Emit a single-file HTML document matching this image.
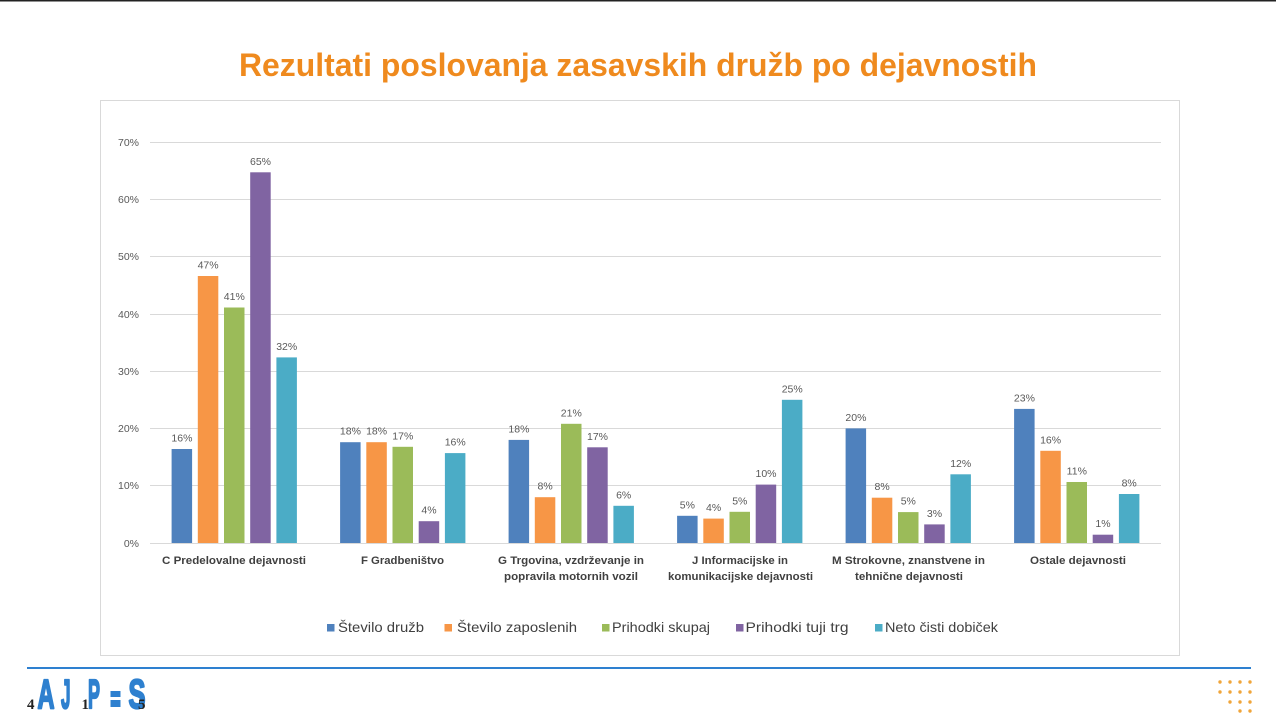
<!DOCTYPE html>
<html><head><meta charset="utf-8"><style>
html,body{margin:0;padding:0;background:#fff;}
svg{display:block;}
text{font-family:"Liberation Sans",sans-serif;}
</style></head><body>
<svg width="1276" height="721" viewBox="0 0 1276 721" xmlns="http://www.w3.org/2000/svg">
<rect x="0" y="0" width="1276" height="721" fill="#fff"/>
<rect x="0" y="0" width="1276" height="1.5" fill="#222"/>
<!-- title -->
<text x="239" y="76" font-size="32" font-weight="bold" fill="#EF8A1E" textLength="798" lengthAdjust="spacingAndGlyphs">Rezultati poslovanja zasavskih družb po dejavnostih</text>
<!-- chart box -->
<rect x="100.5" y="100.5" width="1079" height="555" fill="#fff" stroke="#D9D9D9" stroke-width="1"/>
<!-- gridlines -->
<g stroke="#D9D9D9" stroke-width="1">
<line x1="150" y1="142.5" x2="1161" y2="142.5"/>
<line x1="150" y1="199.5" x2="1161" y2="199.5"/>
<line x1="150" y1="256.5" x2="1161" y2="256.5"/>
<line x1="150" y1="314.5" x2="1161" y2="314.5"/>
<line x1="150" y1="371.5" x2="1161" y2="371.5"/>
<line x1="150" y1="428.5" x2="1161" y2="428.5"/>
<line x1="150" y1="485.5" x2="1161" y2="485.5"/>
<line x1="150" y1="543.5" x2="1161" y2="543.5"/>
</g>
<!-- y tick labels -->
<g font-size="10.5" fill="#595959" text-anchor="end">
<text x="139" y="146">70%</text>
<text x="139" y="203">60%</text>
<text x="139" y="260">50%</text>
<text x="139" y="318">40%</text>
<text x="139" y="375">30%</text>
<text x="139" y="432">20%</text>
<text x="139" y="489">10%</text>
<text x="139" y="547">0%</text>
</g>
<!-- bars -->
<g>
<rect x="171.6" y="449.0" width="20.5" height="94" fill="#4F81BD"/>
<rect x="197.8" y="276.0" width="20.5" height="267" fill="#F79646"/>
<rect x="224.0" y="307.5" width="20.5" height="235.5" fill="#9BBB59"/>
<rect x="250.2" y="172.3" width="20.5" height="370.7" fill="#8064A2"/>
<rect x="276.4" y="357.4" width="20.5" height="185.6" fill="#4BACC6"/>

<rect x="340.1" y="442.2" width="20.5" height="100.8" fill="#4F81BD"/>
<rect x="366.3" y="442.2" width="20.5" height="100.8" fill="#F79646"/>
<rect x="392.5" y="446.8" width="20.5" height="96.2" fill="#9BBB59"/>
<rect x="418.7" y="521.2" width="20.5" height="21.8" fill="#8064A2"/>
<rect x="444.9" y="453.1" width="20.5" height="89.9" fill="#4BACC6"/>

<rect x="508.6" y="439.9" width="20.5" height="103.1" fill="#4F81BD"/>
<rect x="534.8" y="497.2" width="20.5" height="45.8" fill="#F79646"/>
<rect x="561.0" y="423.8" width="20.5" height="119.2" fill="#9BBB59"/>
<rect x="587.2" y="447.3" width="20.5" height="95.7" fill="#8064A2"/>
<rect x="613.4" y="505.8" width="20.5" height="37.2" fill="#4BACC6"/>

<rect x="677.1" y="515.8" width="20.5" height="27.2" fill="#4F81BD"/>
<rect x="703.3" y="518.6" width="20.5" height="24.4" fill="#F79646"/>
<rect x="729.5" y="511.8" width="20.5" height="31.2" fill="#9BBB59"/>
<rect x="755.7" y="484.6" width="20.5" height="58.4" fill="#8064A2"/>
<rect x="781.9" y="399.8" width="20.5" height="143.2" fill="#4BACC6"/>

<rect x="845.6" y="428.4" width="20.5" height="114.6" fill="#4F81BD"/>
<rect x="871.8" y="497.7" width="20.5" height="45.3" fill="#F79646"/>
<rect x="898.0" y="512.1" width="20.5" height="30.9" fill="#9BBB59"/>
<rect x="924.2" y="524.4" width="20.5" height="18.6" fill="#8064A2"/>
<rect x="950.4" y="474.3" width="20.5" height="68.7" fill="#4BACC6"/>

<rect x="1014.1" y="408.9" width="20.5" height="134.1" fill="#4F81BD"/>
<rect x="1040.3" y="450.8" width="20.5" height="92.2" fill="#F79646"/>
<rect x="1066.5" y="482.0" width="20.5" height="61" fill="#9BBB59"/>
<rect x="1092.7" y="534.7" width="20.5" height="8.3" fill="#8064A2"/>
<rect x="1118.9" y="494.0" width="20.5" height="49" fill="#4BACC6"/>
</g>
<!-- data labels -->
<g font-size="10.5" fill="#595959" text-anchor="middle">
<text x="181.9" y="441.5">16%</text>
<text x="208.1" y="268.5">47%</text>
<text x="234.3" y="300">41%</text>
<text x="260.5" y="164.8">65%</text>
<text x="286.7" y="349.9">32%</text>

<text x="350.4" y="434.7">18%</text>
<text x="376.6" y="434.7">18%</text>
<text x="402.8" y="439.3">17%</text>
<text x="429.0" y="513.7">4%</text>
<text x="455.2" y="445.6">16%</text>

<text x="518.9" y="432.4">18%</text>
<text x="545.1" y="489.7">8%</text>
<text x="571.3" y="416.3">21%</text>
<text x="597.5" y="439.8">17%</text>
<text x="623.7" y="498.3">6%</text>

<text x="687.4" y="508.3">5%</text>
<text x="713.6" y="511.1">4%</text>
<text x="739.8" y="504.3">5%</text>
<text x="766.0" y="477.1">10%</text>
<text x="792.2" y="392.3">25%</text>

<text x="855.9" y="420.9">20%</text>
<text x="882.1" y="490.2">8%</text>
<text x="908.3" y="504.6">5%</text>
<text x="934.5" y="516.9">3%</text>
<text x="960.7" y="466.8">12%</text>

<text x="1024.4" y="401.4">23%</text>
<text x="1050.6" y="443.3">16%</text>
<text x="1076.8" y="474.5">11%</text>
<text x="1103.0" y="527.2">1%</text>
<text x="1129.2" y="486.5">8%</text>
</g>
<!-- category labels -->
<g font-size="11" font-weight="bold" fill="#404040">
<text x="162" y="564" textLength="144" lengthAdjust="spacingAndGlyphs">C Predelovalne dejavnosti</text>
<text x="361" y="564" textLength="83" lengthAdjust="spacingAndGlyphs">F Gradbeništvo</text>
<text x="498" y="564" textLength="146" lengthAdjust="spacingAndGlyphs">G Trgovina, vzdrževanje in</text>
<text x="504" y="580" textLength="134" lengthAdjust="spacingAndGlyphs">popravila motornih vozil</text>
<text x="692" y="564" textLength="96" lengthAdjust="spacingAndGlyphs">J Informacijske in</text>
<text x="668" y="580" textLength="145" lengthAdjust="spacingAndGlyphs">komunikacijske dejavnosti</text>
<text x="832" y="564" textLength="153" lengthAdjust="spacingAndGlyphs">M Strokovne, znanstvene in</text>
<text x="855" y="580" textLength="108" lengthAdjust="spacingAndGlyphs">tehnične dejavnosti</text>
<text x="1030" y="564" textLength="96" lengthAdjust="spacingAndGlyphs">Ostale dejavnosti</text>
</g>
<!-- legend -->
<g font-size="14" fill="#404040">
<rect x="327" y="624" width="7.5" height="7.5" fill="#4F81BD"/>
<text x="338" y="632" textLength="86" lengthAdjust="spacingAndGlyphs">Število družb</text>
<rect x="444.5" y="624" width="7.5" height="7.5" fill="#F79646"/>
<text x="457" y="632" textLength="120" lengthAdjust="spacingAndGlyphs">Število zaposlenih</text>
<rect x="602" y="624" width="7.5" height="7.5" fill="#9BBB59"/>
<text x="612" y="632" textLength="98" lengthAdjust="spacingAndGlyphs">Prihodki skupaj</text>
<rect x="736" y="624" width="7.5" height="7.5" fill="#8064A2"/>
<text x="745.5" y="632" textLength="103" lengthAdjust="spacingAndGlyphs">Prihodki tuji trg</text>
<rect x="875" y="624" width="7.5" height="7.5" fill="#4BACC6"/>
<text x="885" y="632" textLength="113" lengthAdjust="spacingAndGlyphs">Neto čisti dobiček</text>
</g>
<!-- footer line -->
<rect x="27" y="667" width="1224" height="2" fill="#2E80D0"/>
<!-- logo -->
<g font-weight="bold" fill="#2E80CF" stroke="#2E80CF" stroke-width="2.2" stroke-linejoin="round" font-size="41">
<text x="37.5" y="708" textLength="17" lengthAdjust="spacingAndGlyphs">A</text>
<text x="61" y="708" textLength="9.5" lengthAdjust="spacingAndGlyphs">J</text>
<text x="88" y="708" textLength="12" lengthAdjust="spacingAndGlyphs">P</text>
<text x="128.5" y="708" textLength="17" lengthAdjust="spacingAndGlyphs">S</text>
</g>
<rect x="110.5" y="691" width="10" height="6" fill="#2E80CF"/>
<rect x="110.5" y="700" width="10" height="7" fill="#2E80CF"/>
<g font-weight="bold" font-size="15" fill="#222">
<text x="27" y="709" style="font-family:'Liberation Serif',serif">4</text>
<text x="81.5" y="709" style="font-family:'Liberation Serif',serif">1</text>
<text x="138" y="709" style="font-family:'Liberation Serif',serif">5</text>
</g>
<!-- dots -->
<g fill="#F0A53A">
<circle cx="1220" cy="682" r="1.7"/><circle cx="1230" cy="682" r="1.7"/><circle cx="1240" cy="682" r="1.7"/><circle cx="1250" cy="682" r="1.7"/>
<circle cx="1220" cy="692" r="1.7"/><circle cx="1230" cy="692" r="1.7"/><circle cx="1240" cy="692" r="1.7"/><circle cx="1250" cy="692" r="1.7"/>
<circle cx="1230" cy="702" r="1.7"/><circle cx="1240" cy="702" r="1.7"/><circle cx="1250" cy="702" r="1.7"/>
<circle cx="1240" cy="711" r="1.7"/><circle cx="1250" cy="711" r="1.7"/>
</g>
</svg>
</body></html>
